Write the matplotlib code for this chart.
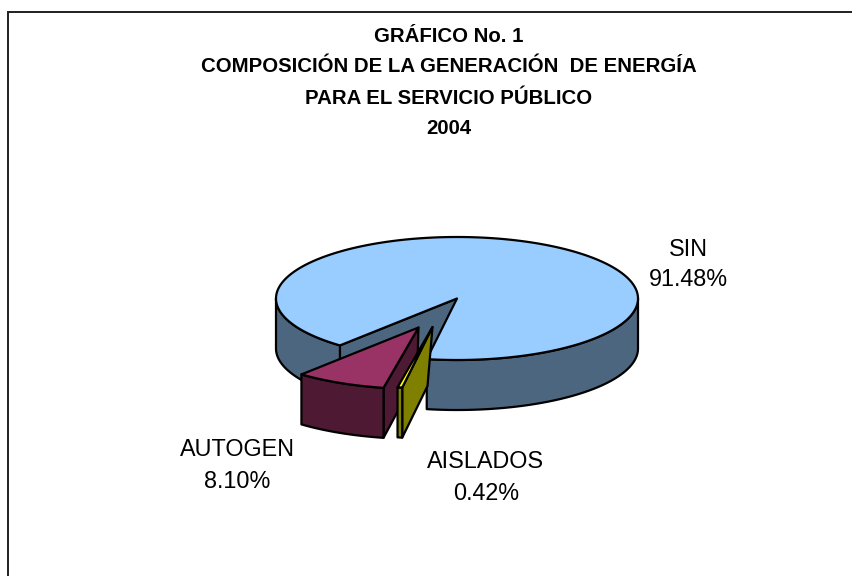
import numpy as np
import matplotlib
matplotlib.use("Agg")
import matplotlib.pyplot as plt
from matplotlib.patches import Polygon

plt.rcParams['font.family'] = ['Liberation Sans', 'DejaVu Sans']

# Data
categories = ['SIN', 'AISLADOS', 'AUTOGEN']
shares = [91.48, 0.42, 8.10]
label_text = ['91.48%', '0.42%', '8.10%']
title_lines = ['GRÁFICO No. 1', 'COMPOSICIÓN DE LA GENERACIÓN  DE ENERGÍA',
               'PARA EL SERVICIO PÚBLICO', '2004']

# Style / layout (pixel space of the figure)
W, H = 853, 576
start_clock = 220.3
rx, ry, depth = 181.0, 61.5, 50.0
centers = {'SIN': (457.0, 298.5), 'AISLADOS': (432.5, 327.0), 'AUTOGEN': (418.5, 327.5)}
top_col = {'SIN': '#99CCFF', 'AISLADOS': '#FFFF00', 'AUTOGEN': '#993366'}
wall_col = {'SIN': '#4D6680', 'AISLADOS': '#808000', 'AUTOGEN': '#4D1933'}
label_pos = {'SIN': (688, 248, 279), 'AISLADOS': (486, 460, 493), 'AUTOGEN': (237, 449, 480)}
LW = 1.6

fig = plt.figure(figsize=(W / 100, H / 100), dpi=100, facecolor='white')
ax = fig.add_axes([0, 0, 1, 1])
ax.set_xlim(0, W)
ax.set_ylim(H, 0)
ax.axis('off')


def rim(c, a0, a1, n=120):
    t = np.radians(np.linspace(a0, a1, n))
    return np.column_stack([c[0] + rx * np.sin(t), c[1] - ry * np.cos(t)])


def poly(pts, col, z):
    ax.add_patch(Polygon(pts, closed=True, facecolor=col, edgecolor='black',
                         linewidth=LW, joinstyle='round', zorder=z))


def outer_wall(c, a0, a1, col, z):
    arc = rim(c, a0, a1)
    poly(np.vstack([arc, arc[::-1] + [0, depth]]), col, z)


def cut_wall(c, a, col, z, inner=(0.0, depth)):
    p = rim(c, a, a, 2)[0]
    poly([c, p, p + [0, depth], np.array(c) + inner], col, z)


# slice angle spans from the values
spans = {}
a = start_clock
for name, val in zip(categories, shares):
    spans[name] = (a, a + val * 3.6)
    a += val * 3.6

# SIN (main body)
c = centers['SIN']
a0, a1 = spans['SIN']
cut_wall(c, a0, wall_col['SIN'], 2)
outer_wall(c, a0, 270, wall_col['SIN'], 3)    # left visible wall
outer_wall(c, 450, a1, wall_col['SIN'], 3)    # front-right visible wall
poly(np.vstack([[c], rim(c, a0, a1, 400)]), top_col['SIN'], 4)

# AUTOGEN (behind the thin AISLADOS slice)
c = centers['AUTOGEN']
a0, a1 = spans['AUTOGEN']
a0 -= 360; a1 -= 360
cut_wall(c, a0, wall_col['AUTOGEN'], 5, inner=(-1.5, 48.0))
outer_wall(c, a0, a1, wall_col['AUTOGEN'], 6)
poly(np.vstack([[c], rim(c, a0, a1, 40)]), top_col['AUTOGEN'], 7)

# AISLADOS
c = centers['AISLADOS']
a0, a1 = spans['AISLADOS']
a0 -= 360; a1 -= 360
cut_wall(c, a0, wall_col['AISLADOS'], 8, inner=(-5.0, 59.0))
outer_wall(c, a0, a1, wall_col['AISLADOS'], 9)
poly(np.vstack([[c], rim(c, a0, a1, 10)]), top_col['AISLADOS'], 10)

# Frame: only left and top are visible
ax.plot([8, 8, W], [H, 12, 12], color='#202020', lw=1.4, zorder=1, solid_joinstyle='miter')

# Title
for line, y in zip(title_lines, [37, 67, 98, 128]):
    ax.text(449, y, line, ha='center', va='center', fontsize=14.7, fontweight='bold', color='black')

# Labels
for name, txt in zip(categories, label_text):
    x, y1, y2 = label_pos[name]
    ax.text(x, y1 + 1, name, ha='center', va='center', fontsize=16.8, color='black')
    ax.text(x, y2 + 1, txt, ha='center', va='center', fontsize=16.8, color='black')

fig.savefig('out.png', dpi=100, facecolor='white')
